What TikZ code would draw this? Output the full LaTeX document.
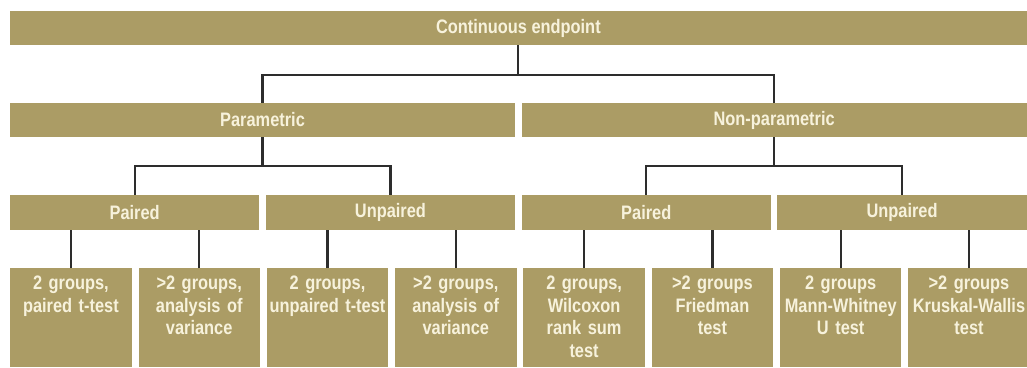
\documentclass[tikz,border=0pt]{standalone}
\usepackage{fontspec}
\setmainfont{Liberation Sans}[FakeStretch=0.84]
\usetikzlibrary{positioning}
\definecolor{boxtan}{RGB}{171,156,101}
\definecolor{boxtext}{RGB}{247,242,220}
\definecolor{linkgray}{RGB}{45,45,45}
\tikzset{
  bar/.style={
    rectangle,
    fill=boxtan,
    text=boxtext,
    inner sep=0pt,
    align=center,
    font=\fontsize{19.5}{22.5}\selectfont\bfseries
  },
  topbar/.style={
    bar,
    minimum width=1016.7pt,
    minimum height=34pt
  },
  halfbar/.style={
    bar,
    minimum width=505.1pt,
    minimum height=34pt
  },
  pairbar/.style={
    bar,
    minimum width=249.3pt,
    minimum height=35pt
  },
  leaf/.style={
    bar,
    text width=121.4pt,
    inner ysep=4pt,
    text height=17.5pt,
    text depth=73.5pt
  },
  link/.style={
    line width=2.2pt,
    draw=linkgray
  }
}

\begin{document}
\begin{tikzpicture}[x=1pt,y=1pt]
  \useasboundingbox (0,0) rectangle (1027,-367);

  % levels
  \node[topbar] (cont) at (518.35,-28) {Continuous endpoint};
  \node[halfbar] (param) at (262.55,-120) {Parametric};
  \node[halfbar] (nonpar) at (774.15,-120) {Non-parametric};
  \node[pairbar] (ppair) at (134.65,-212.5) {Paired};
  \node[pairbar] (punpair) at (390.45,-212.5) {Unpaired};
  \node[pairbar] (npair) at (646.25,-212.5) {Paired};
  \node[pairbar] (nunpair) at (902.05,-212.5) {Unpaired};

  % tests
  \node[leaf, anchor=north west] (ppairtwo) at (10,-268) {2 groups,\\paired t-test};
  \node[leaf, right=6.5pt of ppairtwo] (ppairmany) {>2 groups,\\analysis of\\variance};
  \node[leaf, right=6.5pt of ppairmany] (punpairtwo) {2 groups,\\unpaired t-test};
  \node[leaf, right=6.5pt of punpairtwo] (punpairmany) {>2 groups,\\analysis of\\variance};
  \node[leaf, right=6.5pt of punpairmany] (npairtwo) {2 groups,\\Wilcoxon\\rank sum\\test};
  \node[leaf, right=6.5pt of npairtwo] (npairmany) {>2 groups\\Friedman\\test};
  \node[leaf, right=6.5pt of npairmany] (nunpairtwo) {2 groups\\Mann-Whitney\\U test};
  \node[leaf, right=6.5pt of nunpairtwo] (nunpairmany) {>2 groups\\Kruskal-Wallis\\test};

  \draw[link] (cont.south) -- ++(0,-30) -| (param.north);
  \draw[link] (cont.south) -- ++(0,-30) -| (nonpar.north);
  \draw[link] (param.south) -- ++(0,-29) -| (ppair.north);
  \draw[link] (param.south) -- ++(0,-29) -| (punpair.north);
  \draw[link] (nonpar.south) -- ++(0,-29) -| (npair.north);
  \draw[link] (nonpar.south) -- ++(0,-29) -| (nunpair.north);
  \draw[link] (ppairtwo.north) -- (ppairtwo.north |- ppair.south);
  \draw[link] (ppairmany.north) -- (ppairmany.north |- ppair.south);
  \draw[link] (punpairtwo.north) -- (punpairtwo.north |- punpair.south);
  \draw[link] (punpairmany.north) -- (punpairmany.north |- punpair.south);
  \draw[link] (npairtwo.north) -- (npairtwo.north |- npair.south);
  \draw[link] (npairmany.north) -- (npairmany.north |- npair.south);
  \draw[link] (nunpairtwo.north) -- (nunpairtwo.north |- nunpair.south);
  \draw[link] (nunpairmany.north) -- (nunpairmany.north |- nunpair.south);
\end{tikzpicture}
\end{document}
